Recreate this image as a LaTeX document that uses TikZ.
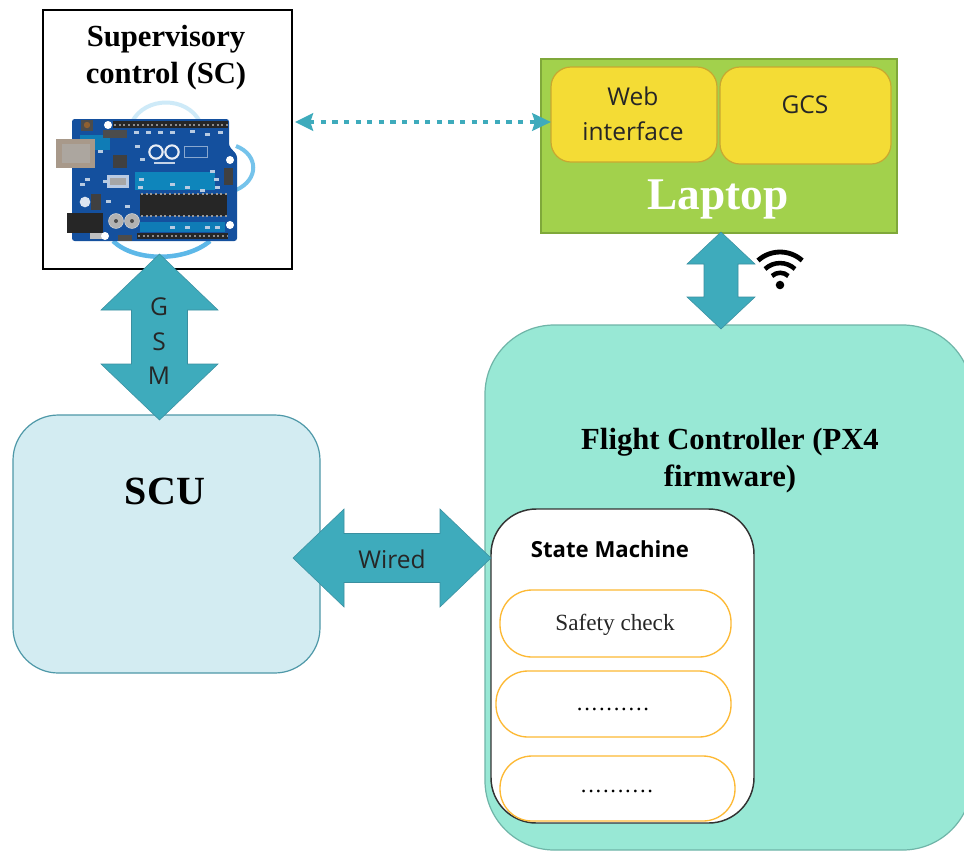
\documentclass[tikz,border=0pt]{standalone}
\usepackage{fontspec}
\setmainfont{Liberation Serif}
\setsansfont{Open Sans}
\newfontfamily\dotsfont[LetterSpace=7.6]{Liberation Serif}
\usetikzlibrary{arrows.meta,calc}
\definecolor{arrowteal}{HTML}{3EABBC}
\definecolor{arrowedge}{HTML}{3A8FA0}
\definecolor{fcfill}{HTML}{98E8D5}
\definecolor{fcedge}{HTML}{6FB5A8}
\definecolor{scufill}{HTML}{D3ECF2}
\definecolor{scuedge}{HTML}{4E98A8}
\definecolor{lapfill}{HTML}{A2D14C}
\definecolor{lapedge}{HTML}{7FA83A}
\definecolor{yfill}{HTML}{F4DC35}
\definecolor{yedge}{HTML}{C8A830}
\definecolor{pillorange}{HTML}{FDB934}
\definecolor{boardblue}{HTML}{14509E}
\definecolor{swirl}{HTML}{5DB8E8}
\tikzset{
 x=0.75pt,y=-0.75pt,
 box/.style={rectangle,inner sep=0pt,outer sep=0pt,line width=0.9pt},
 pill/.style={box,draw=pillorange,fill=white,rounded corners=24pt,line width=1pt},
 yellowbox/.style={box,draw=yedge,fill=yfill,rounded corners=15pt},
 fat/.style={fill=arrowteal,draw=arrowedge,line width=0.4pt,line join=miter},
 lab/.style={inner sep=0pt,outer sep=0pt,align=center},
 sanslab/.style={lab,font=\sffamily\fontsize{18.4}{26}\selectfont,text=black!85},
 seriflab/.style={lab,font=\bfseries\fontsize{23}{27.7}\selectfont,text=black},
 spot/.style={fill=white!70!boardblue},
}
% vertical two-headed block arrow between named points: tip, tip, head half width, shaft half width, head length
\newcommand{\fatVert}[5]{\draw[fat] (#1) -- ($(#1)+(#3,#5)$) -- ($(#1)+(#4,#5)$) -- ($(#2)+(#4,-#5)$) -- ($(#2)+(#3,-#5)$) -- (#2) -- ($(#2)+(-#3,-#5)$) -- ($(#2)+(-#4,-#5)$) -- ($(#1)+(-#4,#5)$) -- ($(#1)+(-#3,#5)$) -- cycle;}
\newcommand{\fatHorz}[5]{\draw[fat] (#1) -- ($(#1)+(#5,-#3)$) -- ($(#1)+(#5,-#4)$) -- ($(#2)+(-#5,-#4)$) -- ($(#2)+(-#5,-#3)$) -- (#2) -- ($(#2)+(-#5,#3)$) -- ($(#2)+(-#5,#4)$) -- ($(#1)+(#5,#4)$) -- ($(#1)+(#5,#3)$) -- cycle;}
\begin{document}
\begin{tikzpicture}
\useasboundingbox (0,0) rectangle (964,851);
\fill[white] (0,0) rectangle (964,851);
% main boxes
\node[box,draw=fcedge,fill=fcfill,rounded corners=52pt,minimum width=487*0.75pt,minimum height=525*0.75pt] (fc) at (728.5,587.5) {};
\node[box,draw=scuedge,fill=scufill,rounded corners=34pt,minimum width=307*0.75pt,minimum height=258*0.75pt] (scu) at (166.5,544) {};
\node[box,draw=black,fill=white,minimum width=249*0.75pt,minimum height=259*0.75pt] (sc) at (167.5,139.5) {};
\node[box,draw=lapedge,fill=lapfill,minimum width=356*0.75pt,minimum height=174*0.75pt] (laptop) at (719,146) {};
\node[yellowbox,minimum width=166*0.75pt,minimum height=95*0.75pt] (web) at (634,114.5) {};
\node[yellowbox,minimum width=171*0.75pt,minimum height=97*0.75pt] (gcs) at (805.5,115.5) {};
\node[box,draw=black!80,fill=white,rounded corners=34pt,line width=1.1pt,minimum width=263*0.75pt,minimum height=314*0.75pt] (sm) at (622.5,666) {};
\node[pill,minimum width=231*0.75pt,minimum height=67*0.75pt] (p1) at (615.5,623.5) {};
\node[pill,minimum width=235*0.75pt,minimum height=66*0.75pt] (p2) at (613.5,704) {};
\node[pill,minimum width=235*0.75pt,minimum height=65*0.75pt] (p3) at (617.5,788.5) {};
% Arduino picture, drawn directly
\begin{scope}
 \draw[swirl!30,line width=3pt] (132,122) .. controls (145,96) and (187,96) .. (200,122);
 \draw[swirl!85,line width=3pt] (236,146) .. controls (259,155) and (259,180) .. (236,190);
 \draw[swirl,line width=3.4pt] (113,241) .. controls (135,262) and (185,262) .. (210,241);
 \fill[boardblue,rounded corners=2pt] (72,119) -- (229,119) -- (229,146) -- (237,155) -- (237,241) -- (72,241) -- cycle;
 \fill[boardblue!70!cyan] (135,172) rectangle (215,190);
 \fill[boardblue!75!cyan] (80,135) rectangle (110,150);
 \fill[boardblue!75!cyan] (140,222) rectangle (225,232);
 % headers
 \fill[black!85] (113,121) rectangle (228,128);
 \fill[black!85] (137,233) rectangle (228,239);
 \draw[black!45,line width=1.5pt,dash pattern=on 1.5pt off 2pt] (114,124.5) -- (228,124.5);
 \draw[black!45,line width=1.5pt,dash pattern=on 1.5pt off 2pt] (138,236) -- (228,236);
 % chip
 \fill[black!85] (140,194) rectangle (227,216);
 \draw[black!40,line width=1.5pt,dash pattern=on 1.5pt off 2pt] (141,194) -- (227,194);
 \draw[black!40,line width=1.5pt,dash pattern=on 1.5pt off 2pt] (141,216) -- (227,216);
 % USB and jack
 \fill[gray!70!brown!80] (56,139) rectangle (95,168);
 \fill[gray!85!brown!70] (62,144) rectangle (90,163);
 \fill[black!85] (67,213) rectangle (103,233);
 \fill[gray!50] (90,233) rectangle (103,239);
 % parts
 \fill[black!75] (224,168) rectangle (233,185);
 \fill[white!70!boardblue] (107,175) rectangle (129,188);
 \fill[gray!70] (110,178) rectangle (126,185);
 \fill[black!75] (113,155) rectangle (127,168);
 \fill[black!70] (81,120) rectangle (93,131);
 \fill[brown!75!black] (87,125) circle[radius=2.4pt];
 \fill[black!70] (103,130) rectangle (127,138);
 \fill[white!85!boardblue] (85,202) circle[radius=4pt];
 \fill[black!75] (91,194) rectangle (101,210);
 \fill[gray!60,draw=gray!30] (116,221) circle[radius=5.6pt];
 \fill[gray!60,draw=gray!30] (132,221) circle[radius=5.6pt];
 \fill[black!70] (116,221) circle[radius=1.5pt];
 \fill[black!70] (132,221) circle[radius=1.5pt];
 \fill[black!70] (118,235) rectangle (132,241);
 % mounting holes
 \fill[white] (108,125) circle[radius=3pt];
 \fill[white] (230,160) circle[radius=3pt];
 \fill[white] (230,225) circle[radius=3pt];
 \fill[white] (105,236) circle[radius=3pt];
 % logo
 \draw[white!90!boardblue,line width=1.6pt] (156,152) circle[radius=5pt];
 \draw[white!90!boardblue,line width=1.6pt] (172,152) circle[radius=5pt];
 \fill[white!75!boardblue] (154,162) rectangle (175,164);
 \draw[white!50!boardblue,line width=0.5pt] (184,146) rectangle (207,157);
 % small printed parts
 \foreach \px/\py in {134/131,146/131,158/131,170/131,190/130,205/133,218/131,135/145,140/158,139/178,138/186,210/170,214/178,215/186,170/183,185/186,200/189,170/226,185/226,205/226,215/226,98/150,103/180,80/183,85/178,106/200,125/205}
   \fill[spot] (\px,\py) rectangle ++(5,2.5);
\end{scope}
% connectors
\coordinate (gsmA) at (159.5,254);
\coordinate (gsmB) at (159.5,420);
\coordinate (wifiA) at (721,232);
\coordinate (wifiB) at (721,329);
\coordinate (wiredA) at (293,558);
\coordinate (wiredB) at (491,558);
\fatVert{gsmA}{gsmB}{58.5}{28}{56}
\fatVert{wifiA}{wifiB}{34}{17}{32}
\fatHorz{wiredA}{wiredB}{49}{24.5}{51}
\draw[arrowteal,line width=3.6pt,dash pattern=on 3.8pt off 4.9pt,{Stealth[length=13.5pt,width=13pt,inset=2pt]}-{Stealth[length=14pt,width=13pt,inset=2pt]}] ($(sc.east)+(3,-17.5)$) -- ($(web.west)+(0,7.5)$);
% wifi icon
\coordinate (w) at (780,285);
\fill[black] (w) circle[radius=3.2pt];
\draw[black,line width=3.6pt] ($(w)+(-22,-24.5)$) arc[start angle=132,end angle=48,radius=24.75pt];
\draw[black,line width=3.4pt] ($(w)+(-15,-16)$) arc[start angle=133,end angle=47,radius=16.5pt];
\draw[black,line width=3.4pt] ($(w)+(-8,-9)$) arc[start angle=133,end angle=47,radius=9pt];
% labels
\node[seriflab] at (166,58) {Supervisory\\control (SC)};
\node[lab,font=\bfseries\fontsize{34}{40}\selectfont,text=white] at (718,199) {Laptop};
\node[sanslab] at (633,114) {Web\\interface};
\node[sanslab] at (805,105) {GCS};
\node[lab,font=\bfseries\fontsize{30}{36}\selectfont] at (165,491) {SCU};
\node[seriflab] at (730,461) {Flight Controller (PX4\\firmware)};
\node[sanslab,font=\sffamily\bfseries\fontsize{16.6}{20}\selectfont,text=black] at (610,549) {State Machine};
\node[lab,font=\fontsize{17.4}{20}\selectfont,text=black!85] at (615,625) {Safety check};
\node[lab,font=\dotsfont\fontsize{17}{20}\selectfont] at (613,709) {..........};
\node[lab,font=\dotsfont\fontsize{17}{20}\selectfont] at (617,791) {..........};
\node[sanslab] at (392,559) {Wired};
\node[sanslab] at (159,307) {G};
\node[sanslab] at (159,342) {S};
\node[sanslab] at (159,376) {M};
\end{tikzpicture}
\end{document}
